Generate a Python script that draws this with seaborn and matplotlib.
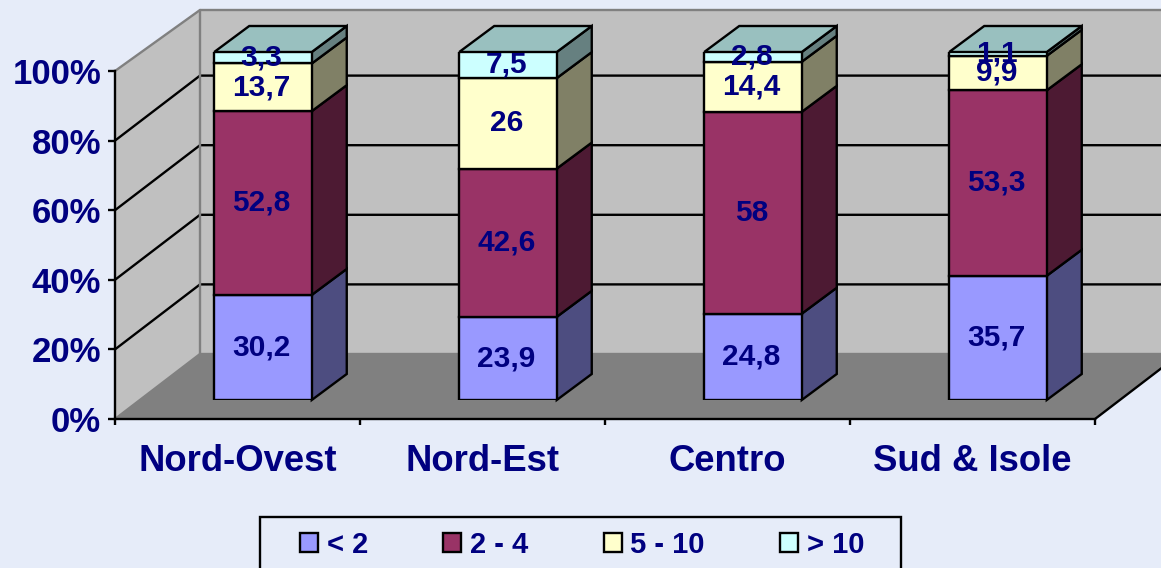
import matplotlib
matplotlib.use("Agg")
import matplotlib.pyplot as plt
import numpy as np
import seaborn as sns
from matplotlib.patches import Patch, Polygon, Rectangle

categories = ["Nord-Ovest", "Nord-Est", "Centro", "Sud & Isole"]
series_names = ["< 2", "2 - 4", "5 - 10", "> 10"]
lt2 = [30.2, 23.9, 24.8, 35.7]
s2_4 = [52.8, 42.6, 58, 53.3]
s5_10 = [13.7, 26, 14.4, 9.9]
gt10 = [3.3, 7.5, 2.8, 1.1]
yticks = [0, 20, 40, 60, 80, 100]

front = ["#9999FF", "#993366", "#FFFFCC", "#CCFFFF"]
side = ["#4D4D80", "#4D1A33", "#808066", "#668080"]
top_col = "#99C0BF"
BG = "#E6ECF9"
NAVY = "#000080"
FONT = "Liberation Sans"
W, H = 1161, 568
LW = 1.7


def axes_px(fig, x0, y0, x1, y1):
    return fig.add_axes([x0 / W, 1 - y1 / H, (x1 - x0) / W, (y1 - y0) / H])


sns.set_theme(style="white")
plt.rcParams["font.family"] = [FONT, "DejaVu Sans"]
plt.rcParams["font.weight"] = "bold"
fig = plt.figure(figsize=(W / 100, H / 100), dpi=100, facecolor=BG)

# ---- frame: walls, floor, grid
ax = axes_px(fig, 115, 71, 1095, 419)
ax.set_xlim(0, 4)
ax.set_ylim(0, 100)
ax.patch.set_alpha(0)
DX, DY = 85 / 245, 65 / 3.48
WALL_TOP = DY + 98.85


def back(v):
    return DY + v


ax.add_patch(Polygon([(DX, back(0)), (4 + DX, back(0)), (4 + DX, WALL_TOP), (DX, WALL_TOP)],
                     fc="#C0C0C0", ec="none", clip_on=False, zorder=0))
ax.add_patch(Polygon([(0, 0), (DX, back(0)), (DX, WALL_TOP), (0, 100)],
                     fc="#C0C0C0", ec="none", clip_on=False, zorder=0))
ax.add_patch(Polygon([(0, 0), (4, 0), (4 + DX, back(0)), (DX, back(0))],
                     fc="#808080", ec="none", clip_on=False, zorder=0))
for v in yticks[1:-1]:
    ax.plot([0, DX, 4 + DX], [v, back(v), back(v)], color="black", lw=LW, clip_on=False, zorder=1)
gray = dict(color="#808080", lw=LW, clip_on=False, zorder=1.5)
ax.plot([0, DX, 4 + DX], [100, WALL_TOP, WALL_TOP], **gray)
ax.plot([0, DX, 4 + DX], [0, back(0), back(0)], **gray)
ax.plot([DX, DX], [back(0), WALL_TOP], **gray)
ax.plot([4, 4 + DX], [0, back(0)], color="black", lw=LW, clip_on=False, zorder=2)

for s in ("top", "right"):
    ax.spines[s].set_visible(False)
for s in ("left", "bottom"):
    ax.spines[s].set_color("black")
    ax.spines[s].set_linewidth(LW)
    ax.spines[s].set_zorder(3)
ax.set_yticks(yticks, [f"{v}%" for v in yticks])
ax.set_xticks(range(5), [""] * 5)
ax.set_xticks(np.arange(4) + 0.5, categories, minor=True)
ax.tick_params(axis="y", left=True, length=5, width=LW, color="black", pad=5,
               labelsize=25, labelcolor=NAVY)
ax.tick_params(axis="x", which="major", bottom=True, length=4.5, width=LW, color="black")
ax.tick_params(axis="x", which="minor", bottom=False, length=0, pad=18,
               labelsize=26.3, labelcolor=NAVY)
for t in ax.get_yticklabels() + ax.get_xticklabels(minor=True):
    t.set_fontweight("bold")
    t.set_fontfamily(FONT)

# ---- bars
bx = axes_px(fig, 140.5, 52, 1120.5, 400)
bx.patch.set_alpha(0)
bx.set_axis_off()
dx, dy = 35 / 245, 26 / 3.48
width = 0.398
all_series = [lt2, s2_4, s5_10, gt10]
bottom = np.zeros(4)
labels = []
for vals, fc, sc in zip(all_series, front, side):
    vals = np.array(vals, dtype=float)
    sns.barplot(x=categories, y=vals, bottom=bottom, order=categories, color=fc, saturation=1,
                width=width, edgecolor="black", linewidth=LW, ax=bx, zorder=3)
    for i, (b, v) in enumerate(zip(bottom, vals)):
        xr = i + width / 2
        bx.add_patch(Polygon([(xr, b), (xr + dx, b + dy), (xr + dx, b + v + dy), (xr, b + v)],
                             fc=sc, ec="black", lw=LW, clip_on=False, zorder=2.5))
        labels.append((i, b + v / 2, f"{v:g}".replace(".", ",")))
    bottom = bottom + vals
for i, total in enumerate(bottom):
    xl, xr = i - width / 2, i + width / 2
    bx.add_patch(Polygon([(xl, total), (xr, total), (xr + dx, total + dy), (xl + dx, total + dy)],
                         fc=top_col, ec="black", lw=LW, clip_on=False, zorder=2.5))
for i, y, s in labels:
    bx.annotate(s, (i, y), xytext=(-1, -5.6), textcoords="offset points", ha="center", va="baseline",
                fontsize=21.5, color=NAVY, fontweight="bold", fontfamily=FONT, zorder=6,
                annotation_clip=False)
bx.set_xlim(-0.5, 3.5)
bx.set_ylim(0, 100)
bx.set_axis_off()

# ---- legend
fig.add_artist(Rectangle((259.5 / W, -20 / H), 642 / W, (568 - 516.5 + 20) / H, transform=fig.transFigure,
                         fc="none", ec="black", lw=LW))
handles = [Patch(fc=c, ec="black", lw=LW, label=n) for c, n in zip(front, series_names)]
fig.legend(handles=handles, loc="upper left", bbox_to_anchor=(300 / W, 1 - 531 / H), ncol=4,
           frameon=False, borderpad=0, borderaxespad=0, labelcolor=NAVY,
           handlelength=0.62, handleheight=0.62, handletextpad=0.3, columnspacing=2.58,
           prop={"family": FONT, "weight": "bold", "size": 21})

fig.savefig("out.png", dpi=100, facecolor=BG)
